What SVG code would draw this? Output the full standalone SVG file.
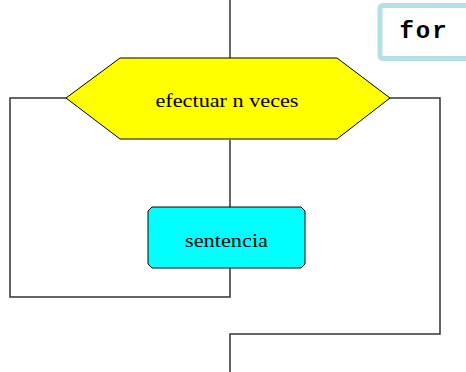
<svg xmlns="http://www.w3.org/2000/svg" width="466" height="372" viewBox="0 0 466 372">
<style>
.conn{fill:none;stroke:#333;stroke-width:1.5}
.lbl{font-family:"Liberation Serif","Times New Roman",serif;font-size:19px;fill:#000}
</style>
<rect width="466" height="372" fill="#fff"/>
<g id="connectors">
<path class="conn" d="M230,0 V58"/>
<path class="conn" d="M230,140 V207"/>
<path class="conn" d="M230,268 V297 H10 V98 H66"/>
<path class="conn" d="M390,98 H440 V334 H230 V372"/>
</g>
<g id="loop">
<polygon points="66,98 120,58 337,58 390,98 337,139 120,139" fill="#ffff00" stroke="#000" stroke-width="1"/>
<text class="lbl" x="227" y="107" text-anchor="middle" textLength="143" lengthAdjust="spacingAndGlyphs">efectuar n veces</text>
</g>
<g id="sentencia">
<path d="M152,207 H301 L305,211 V264 L301,268 H152 L148,264 V211 Z" fill="#00ffff" stroke="#000" stroke-width="1"/>
<text class="lbl" x="226.5" y="247" text-anchor="middle" textLength="83" lengthAdjust="spacingAndGlyphs">sentencia</text>
</g>
<g id="for">
<rect x="380" y="5.5" width="100" height="53" rx="3" fill="#fff" stroke="#b4dfe3" stroke-width="5"/>
<text x="424" y="38" text-anchor="middle" font-family="'Liberation Mono','Courier New',monospace" font-weight="bold" font-size="24" letter-spacing="2">for</text>
</g>
</svg>
